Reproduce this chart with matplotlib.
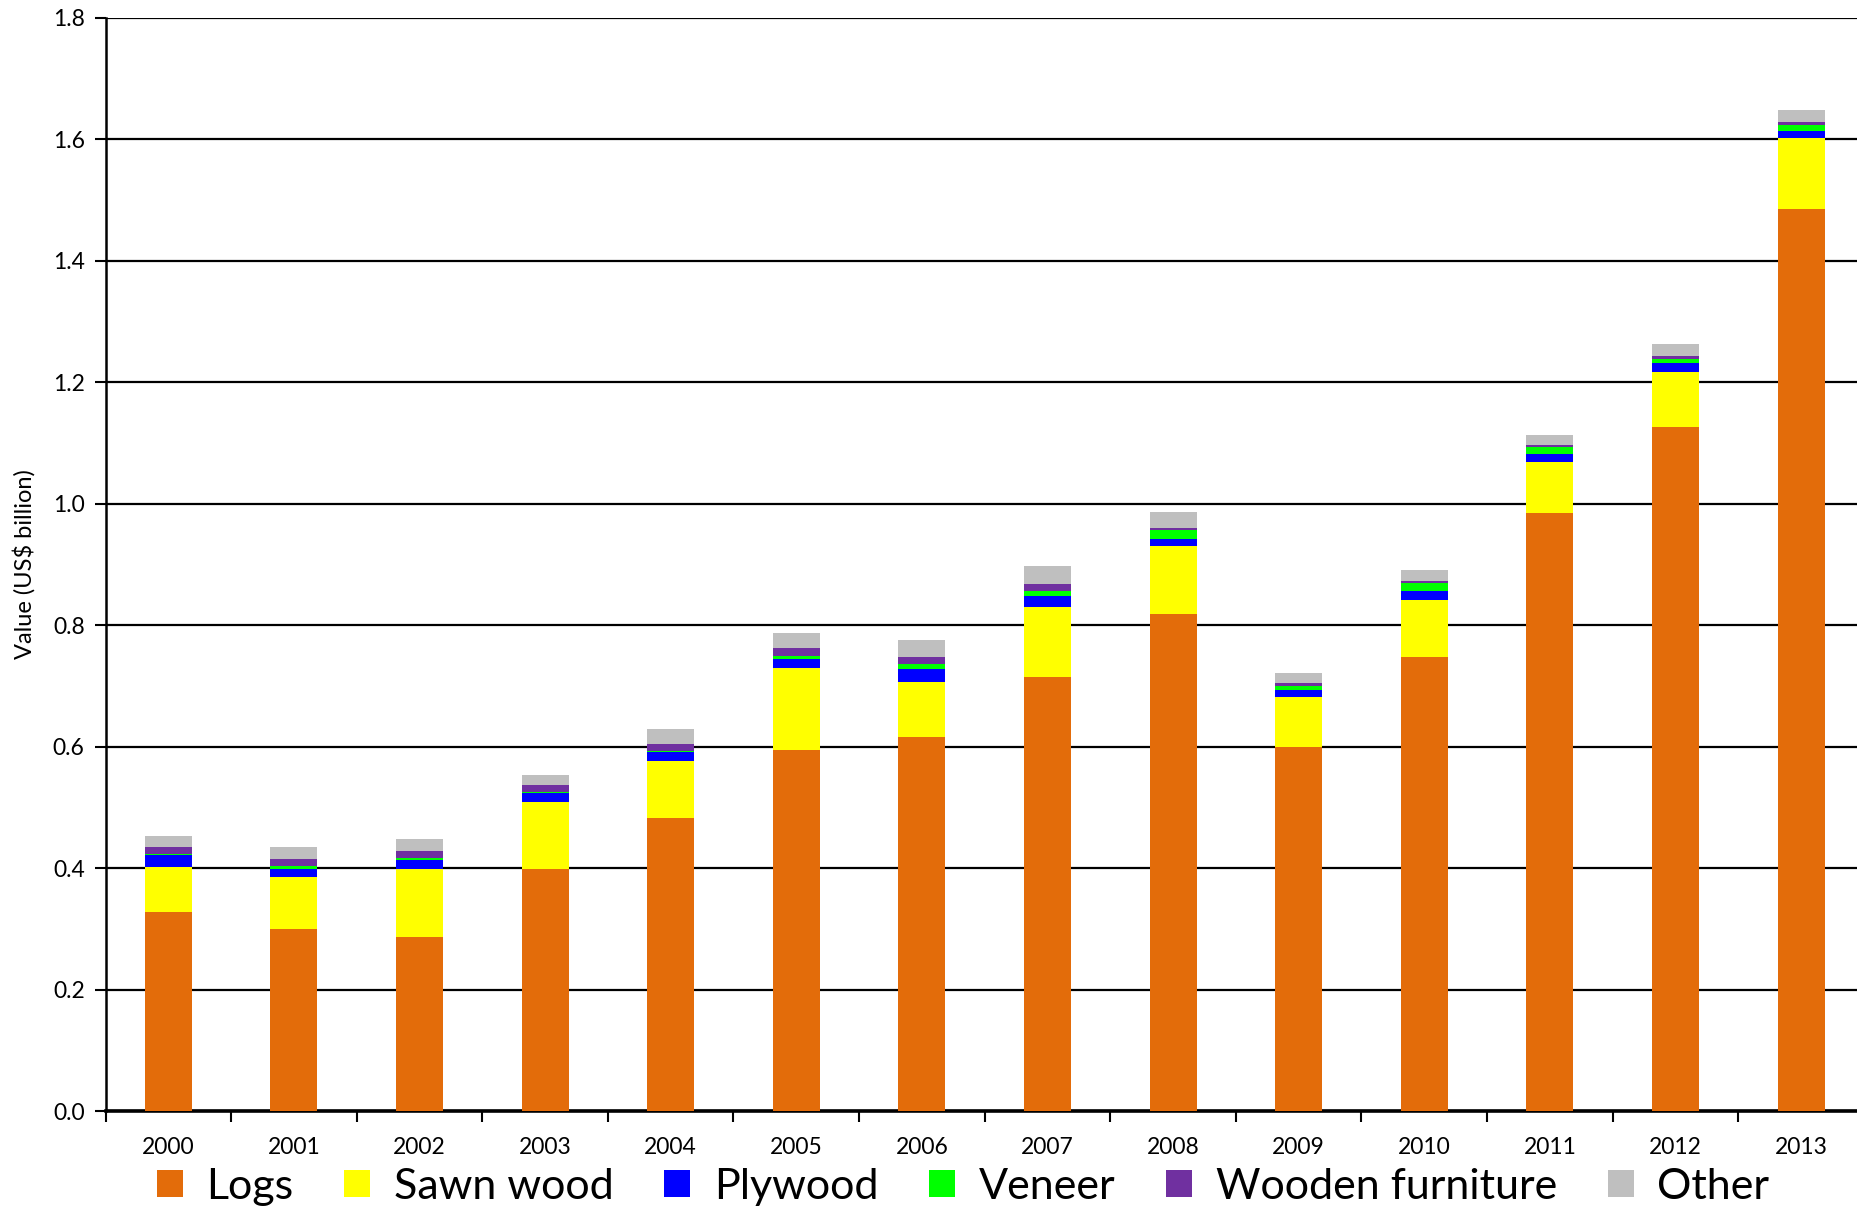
import matplotlib
matplotlib.use('Agg')
import matplotlib.pyplot as plt
import numpy as np

years=['2000','2001','2002','2003','2004','2005','2006','2007','2008','2009','2010','2011','2012','2013']
logs=[0.327,0.299,0.287,0.398,0.482,0.594,0.616,0.714,0.818,0.599,0.748,0.984,1.126,1.486]
sawn=[0.074,0.086,0.111,0.111,0.094,0.136,0.090,0.116,0.113,0.082,0.093,0.084,0.091,0.116]
plywood=[0.020,0.014,0.016,0.014,0.015,0.015,0.022,0.018,0.011,0.013,0.015,0.014,0.014,0.012]
veneer=[0.002,0.004,0.003,0.003,0.002,0.005,0.008,0.009,0.014,0.005,0.013,0.011,0.008,0.010]
furniture=[0.011,0.012,0.011,0.011,0.012,0.012,0.012,0.011,0.004,0.005,0.003,0.003,0.004,0.004]
other=[0.018,0.019,0.020,0.017,0.024,0.025,0.028,0.030,0.026,0.017,0.018,0.017,0.020,0.020]

series=[('Logs',logs,'#E36C0A'),('Sawn wood',sawn,'#FFFF00'),('Plywood',plywood,'#0000FF'),
        ('Veneer',veneer,'#00FF00'),('Wooden furniture',furniture,'#7030A0'),('Other',other,'#BFBFBF')]

plt.rcParams.update({'font.family':['Lato','DejaVu Sans']})
fig=plt.figure(figsize=(18.57,12.10),dpi=100)
ax=fig.add_axes([105.5/1857,1-1111/1210,1758.4/1857,(1111-17.8)/1210])

x=np.arange(len(years))
bottom=np.zeros(len(years))
for name,vals,col in series:
    ax.bar(x,vals,width=0.375,bottom=bottom,color=col,label=name,linewidth=0,zorder=3)
    bottom+=np.asarray(vals)

ax.set_xlim(-0.5,len(years)-0.5)
ax.set_ylim(0,1.8)
ax.set_yticks(np.arange(0,1.81,0.2))
ax.set_yticklabels([f'{v:.1f}' for v in np.arange(0,1.81,0.2)],fontsize=16.5)
ax.yaxis.grid(True,color='black',linewidth=1.6,zorder=0)
ax.set_axisbelow(True)
ax.set_xticks(x)
ax.set_xticklabels(years,fontsize=16.5)
ax.set_xticks(np.arange(-0.5,len(years),1),minor=True)
ax.tick_params(axis='x',which='major',length=0,pad=19)
ax.tick_params(axis='x',which='minor',length=8,width=1.5,direction='out')
ax.tick_params(axis='y',length=8,width=1.5,direction='out',pad=7)
for s in ['top','right']: ax.spines[s].set_visible(False)
ax.spines['left'].set_linewidth(1.8)
ax.spines['bottom'].set_linewidth(2.6)
ax.set_ylabel('Value (US$ billion)',fontsize=17,labelpad=12)

fig.legend(loc='center',bbox_to_anchor=(963/1857,1-1187/1210),ncol=6,frameon=False,fontsize=31,
           handlelength=0.6,handleheight=0.6,handletextpad=0.55,columnspacing=1.18,borderaxespad=0)

fig.savefig('out.png',dpi=100)
